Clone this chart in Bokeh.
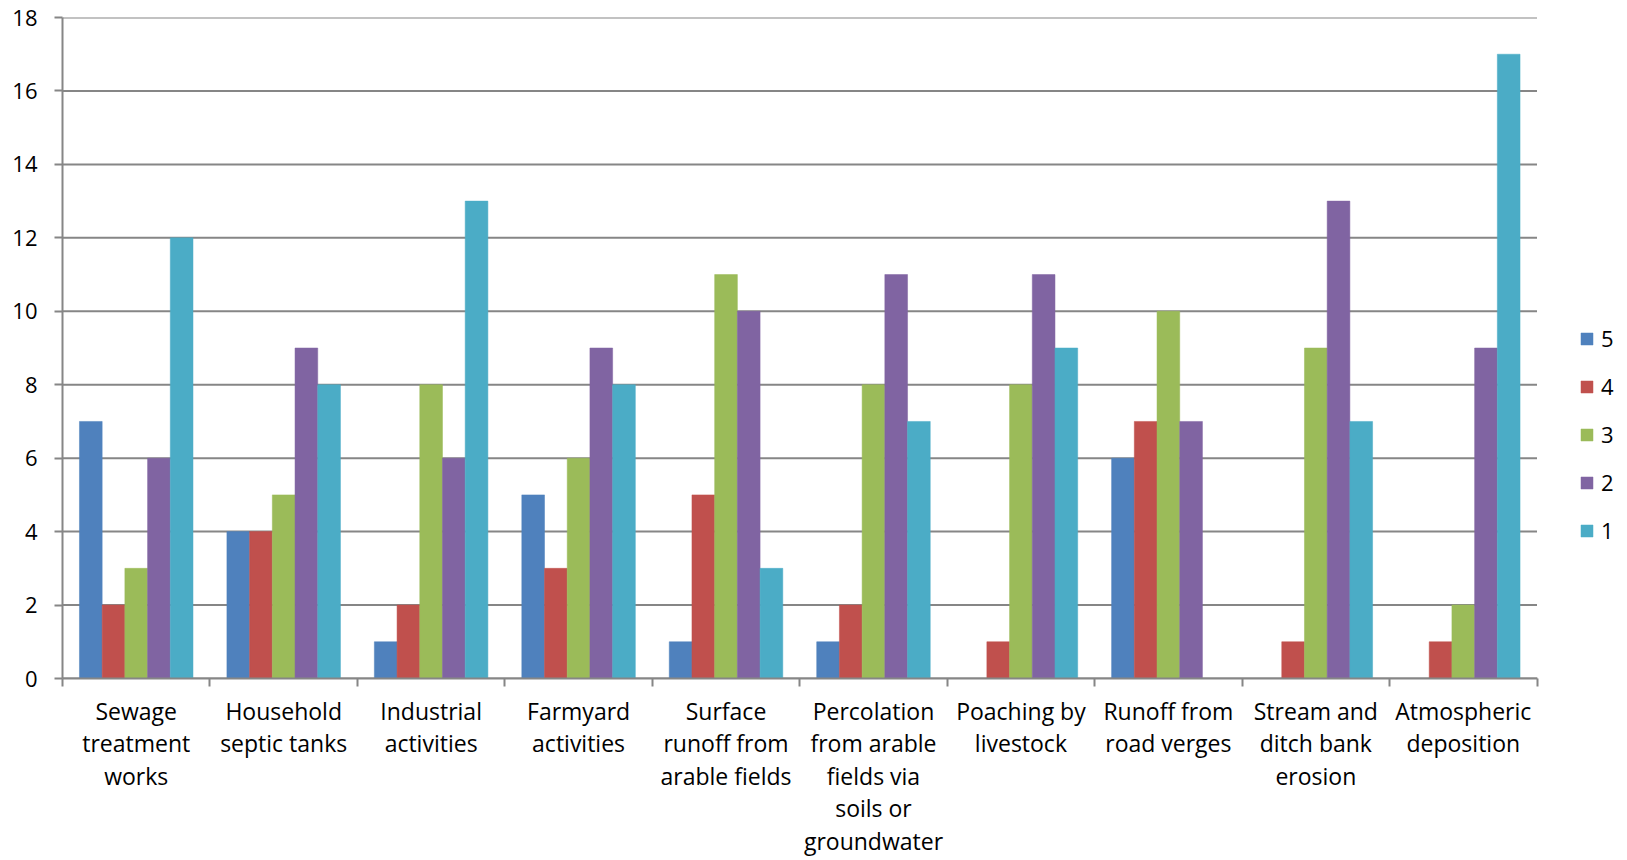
from bokeh.plotting import figure
from bokeh.models import (Range1d, LinearAxis, FixedTicker,
                          ColumnDataSource, Legend, LegendItem)
from bokeh.transform import dodge
from bokeh.embed import file_html
from bokeh.resources import INLINE

categories = [
    "Sewage\ntreatment\nworks",
    "Household\nseptic tanks",
    "Industrial\nactivities",
    "Farmyard\nactivities",
    "Surface\nrunoff from\narable fields",
    "Percolation\nfrom arable\nfields via\nsoils or\ngroundwater",
    "Poaching by\nlivestock",
    "Runoff from\nroad verges",
    "Stream and\nditch bank\nerosion",
    "Atmospheric\ndeposition",
]
series_names = ["5", "4", "3", "2", "1"]
s5 = [7, 4, 1, 5, 1, 1, 0, 6, 0, 0]
s4 = [2, 4, 2, 3, 5, 2, 1, 7, 1, 1]
s3 = [3, 5, 8, 6, 11, 8, 8, 10, 9, 2]
s2 = [6, 9, 6, 9, 10, 11, 11, 7, 13, 9]
s1 = [12, 8, 13, 8, 3, 7, 9, 0, 7, 17]
colors = ["#4F81BD", "#C0504D", "#9BBB59", "#8064A2", "#4BACC6"]
y_ticks = [0, 2, 4, 6, 8, 10, 12, 14, 16, 18]

FONT = "Open Sans"
GRAY = "#868686"

n = len(categories)
centers = [i + 0.5 for i in range(n)]
bounds = list(range(n + 1))
source = ColumnDataSource(dict(x=centers, s5=s5, s4=s4, s3=s3, s2=s2, s1=s1))

# the frame extends to the right edge so the legend can sit inside it
x_end = n * (1627 - 62) / 1474.5
p = figure(width=1627, height=860, x_range=Range1d(0, x_end), y_range=Range1d(0, 18),
           output_backend="svg", toolbar_location=None, x_axis_location=None,
           min_border_left=62, min_border_right=0, min_border_top=17, min_border_bottom=0)
p.outline_line_color = None
p.background_fill_color = "white"
p.border_fill_color = "white"

# horizontal gridlines restricted to the category area
p.xgrid.visible = False
p.ygrid.visible = False
p.segment(x0=[0] * len(y_ticks), x1=[n] * len(y_ticks), y0=y_ticks, y1=y_ticks,
          line_color=GRAY, line_width=2)

xaxis = LinearAxis(ticker=FixedTicker(ticks=centers, minor_ticks=bounds), bounds=(0, n))
xaxis.major_label_overrides = {c: lab for c, lab in zip(centers, categories)}
xaxis.axis_line_color = GRAY
xaxis.axis_line_width = 2
xaxis.major_tick_line_color = None
xaxis.major_tick_out = 8
xaxis.major_tick_in = 0
xaxis.minor_tick_line_color = GRAY
xaxis.minor_tick_line_width = 2
xaxis.minor_tick_out = 8
xaxis.minor_tick_in = 0
xaxis.major_label_text_font = FONT
xaxis.major_label_text_font_size = "23px"
xaxis.major_label_text_color = "#000000"
xaxis.major_label_text_line_height = 1.02
xaxis.major_label_standoff = 8
xaxis.major_label_orientation = "horizontal"
p.add_layout(xaxis, "below")

p.yaxis.ticker = FixedTicker(ticks=y_ticks)
p.yaxis.axis_line_color = GRAY
p.yaxis.axis_line_width = 2
p.yaxis.major_tick_line_color = GRAY
p.yaxis.major_tick_line_width = 2
p.yaxis.major_tick_out = 8
p.yaxis.major_tick_in = 0
p.yaxis.minor_tick_line_color = None
p.yaxis.major_label_text_font = FONT
p.yaxis.major_label_text_font_size = "22px"
p.yaxis.major_label_text_color = "#000000"
p.yaxis.major_label_standoff = 17

bw = 0.154
cols = ["s5", "s4", "s3", "s2", "s1"]
items = []
for k, (col, name, color) in enumerate(zip(cols, series_names, colors)):
    r = p.vbar(x=dodge("x", (k - 2) * bw), top=col, width=bw, source=source,
               fill_color=color, line_color=color, line_width=0.5)
    items.append(LegendItem(label=name, renderers=[r]))

legend = Legend(items=items, location=(1517, 133))
legend.border_line_color = None
legend.background_fill_alpha = 0
legend.padding = 0
legend.margin = 0
legend.glyph_width = 15
legend.glyph_height = 15
legend.label_height = 26
legend.spacing = 18
legend.label_standoff = 7
legend.label_text_font = FONT
legend.label_text_font_size = "22px"
legend.label_text_color = "#000000"
p.add_layout(legend)

open("out.html", "w").write(file_html(p, INLINE))
